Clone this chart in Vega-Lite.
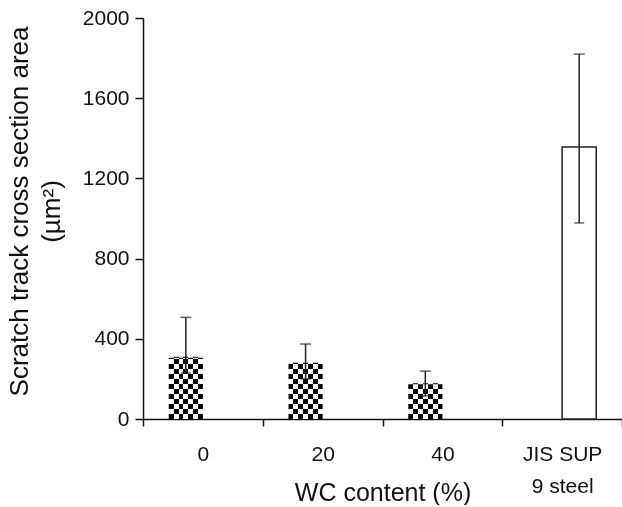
{
  "$schema": "https://vega.github.io/schema/vega-lite/v6.json",
  "width": 479,
  "height": 401,
  "padding": {"left": 6, "top": 7, "right": 0, "bottom": 0},
  "background": "white",
  "config": {
    "view": {"stroke": null},
    "font": "Liberation Sans",
    "axis": {
      "domainColor": "#111111",
      "domainWidth": 1.5,
      "tickColor": "#111111",
      "tickWidth": 1.5,
      "labelColor": "#111111",
      "titleColor": "#111111",
      "labelFontSize": 21,
      "titleFontSize": 25,
      "titleFontWeight": "normal",
      "grid": false
    }
  },
  "data": {
    "values": [
      {"cat": "0", "series": "WC", "value": 310, "lo": 229, "hi": 507},
      {"cat": "20", "series": "WC", "value": 280, "lo": 200, "hi": 374},
      {"cat": "40", "series": "WC", "value": 178, "lo": 115, "hi": 239},
      {"cat": "JIS", "series": "steel", "value": 1357, "lo": 978, "hi": 1820}
    ]
  },
  "encoding": {
    "x": {
      "field": "cat",
      "type": "nominal",
      "sort": ["0", "20", "40", "JIS"],
      "scale": {"paddingInner": 0, "paddingOuter": 0},
      "axis": {
        "title": "WC content (%)",
        "labelAngle": 0,
        "tickBand": "extent",
        "tickSize": 7,
        "labelPadding": 17,
        "labelBaseline": "top",
        "labelLineHeight": 32,
        "labelExpr": "datum.value == 'JIS' ? ['JIS SUP', '9 steel'] : datum.value",
        "titleBaseline": "alphabetic",
        "titleY": 81
      }
    },
    "xOffset": {
      "field": "series",
      "type": "nominal",
      "sort": ["WC", "steel"],
      "scale": {"domain": ["WC", "steel"], "paddingInner": 0, "paddingOuter": 0.755}
    },
    "y": {
      "field": "value",
      "type": "quantitative",
      "scale": {"domain": [0, 2000], "nice": false},
      "axis": {
        "title": ["Scratch track cross section area", "(µm²)"],
        "values": [0, 400, 800, 1200, 1600, 2000],
        "format": "d",
        "tickSize": 8,
        "labelPadding": 6,
        "titleFontSize": 26,
        "titleLineHeight": 32,
        "titlePadding": 18,
        "titleY": 193
      }
    }
  },
  "layer": [
    {
      "transform": [{"filter": "datum.series == 'WC'"}],
      "mark": {
        "type": "bar",
        "fill": {
          "gradient": "linear", "x1": 0, "y1": 0, "x2": 0, "y2": 1,
          "stops": [
            {"offset": 0, "color": "white"}, {"offset": 0.0625, "color": "white"},
            {"offset": 0.0625, "color": "black"}, {"offset": 0.125, "color": "black"},
            {"offset": 0.125, "color": "white"}, {"offset": 0.1875, "color": "white"},
            {"offset": 0.1875, "color": "black"}, {"offset": 0.25, "color": "black"},
            {"offset": 0.25, "color": "white"}, {"offset": 0.3125, "color": "white"},
            {"offset": 0.3125, "color": "black"}, {"offset": 0.375, "color": "black"},
            {"offset": 0.375, "color": "white"}, {"offset": 0.4375, "color": "white"},
            {"offset": 0.4375, "color": "black"}, {"offset": 0.5, "color": "black"},
            {"offset": 0.5, "color": "white"}, {"offset": 0.5625, "color": "white"},
            {"offset": 0.5625, "color": "black"}, {"offset": 0.625, "color": "black"},
            {"offset": 0.625, "color": "white"}, {"offset": 0.6875, "color": "white"},
            {"offset": 0.6875, "color": "black"}, {"offset": 0.75, "color": "black"},
            {"offset": 0.75, "color": "white"}, {"offset": 0.8125, "color": "white"},
            {"offset": 0.8125, "color": "black"}, {"offset": 0.875, "color": "black"},
            {"offset": 0.875, "color": "white"}, {"offset": 0.9375, "color": "white"},
            {"offset": 0.9375, "color": "black"}, {"offset": 1, "color": "black"}
          ]
        }
      },
      "encoding": {
        "y": {"datum": 400, "type": "quantitative", "axis": {"title": ["Scratch track cross section area", "(µm²)"], "values": [0, 400, 800, 1200, 1600, 2000], "format": "d", "tickSize": 8, "labelPadding": 6, "titleFontSize": 26, "titleLineHeight": 32, "titlePadding": 18, "titleY": 193}},
        "y2": {"datum": 0}
      }
    },
    {
      "transform": [{"filter": "datum.series == 'WC'"}],
      "mark": {"type": "bar", "fill": "white", "stroke": "white", "strokeWidth": 2},
      "encoding": {"y2": {"datum": 400}}
    },
    {
      "transform": [{"filter": "datum.series == 'WC'"}],
      "mark": {
        "type": "bar",
        "blend": "difference",
        "fill": {
          "gradient": "linear", "x1": 0, "y1": 0, "x2": 1, "y2": 0,
          "stops": [
            {"offset": 0, "color": "black"}, {"offset": 0.142857, "color": "black"},
            {"offset": 0.142857, "color": "white"}, {"offset": 0.285714, "color": "white"},
            {"offset": 0.285714, "color": "black"}, {"offset": 0.428571, "color": "black"},
            {"offset": 0.428571, "color": "white"}, {"offset": 0.571429, "color": "white"},
            {"offset": 0.571429, "color": "black"}, {"offset": 0.714286, "color": "black"},
            {"offset": 0.714286, "color": "white"}, {"offset": 0.857143, "color": "white"},
            {"offset": 0.857143, "color": "black"}, {"offset": 1, "color": "black"}
          ]
        }
      }
    },
    {
      "transform": [{"filter": "datum.series == 'steel'"}],
      "mark": {"type": "bar", "fill": "white", "stroke": "#222222", "strokeWidth": 1.5}
    },
    {
      "mark": {"type": "rule", "color": "#222222", "strokeWidth": 1.5},
      "encoding": {"y": {"field": "lo", "type": "quantitative"}, "y2": {"field": "hi"}}
    },
    {
      "mark": {"type": "tick", "color": "#222222", "thickness": 1.5, "size": 11},
      "encoding": {"y": {"field": "hi", "type": "quantitative"}}
    },
    {
      "mark": {"type": "tick", "color": "#222222", "thickness": 1.5, "size": 10},
      "encoding": {"y": {"field": "lo", "type": "quantitative"}}
    }
  ]
}
